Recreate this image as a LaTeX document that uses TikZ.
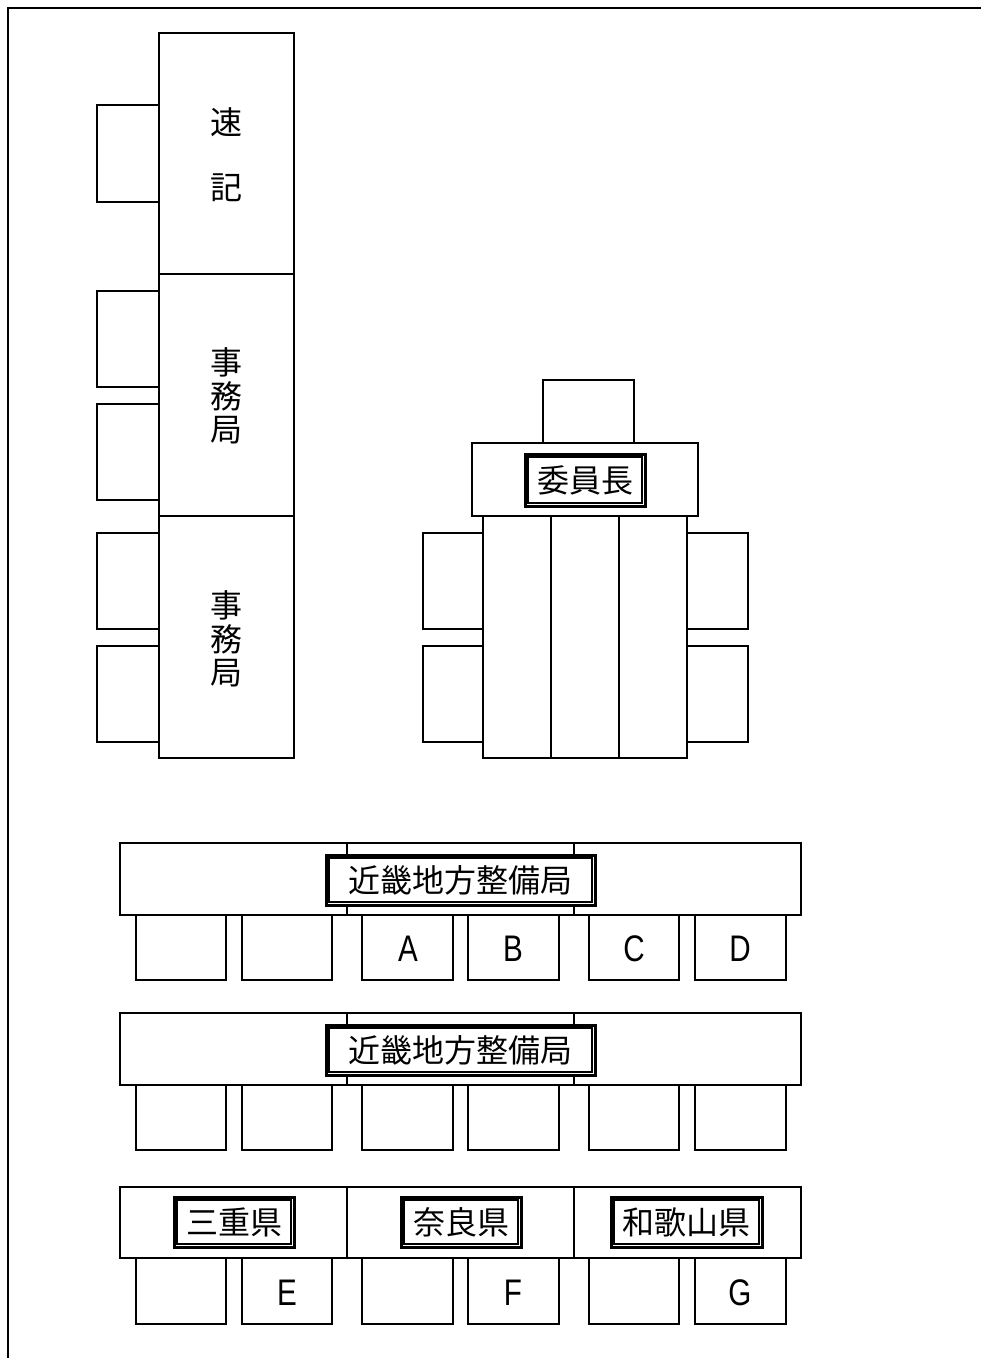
\documentclass[tikz,border=0pt]{standalone}
\usepackage{fontspec}
\newfontfamily\jpfont{Noto Sans CJK JP}
\newfontfamily\latfont[FakeStretch=0.8]{Liberation Sans}
\newcommand{\rbox}[6][]{%
  \node[furn,#1,minimum width={(#5-#3)*1pt},minimum height={(#6-#4)*1pt}] (#2) at ({(#3+#5)/2},{(#4+#6)/2}) {};}
\begin{document}
\begin{tikzpicture}[x=1pt,y=-1pt,
  furn/.style={draw=black,fill=white,line width=2.4pt,inner sep=0pt,outer sep=0pt},
  jp/.style={font=\jpfont\fontsize{32}{32}\selectfont,inner sep=0pt},
  letter/.style={font=\latfont\fontsize{37}{37}\selectfont,inner sep=0pt},
  lab/.style={draw=black,fill=white,line width=3pt,inner sep=0pt,font=\jpfont\fontsize{32}{32}\selectfont},
  inner/.style={draw=black,line width=1.2pt}]
\useasboundingbox (0,0) rectangle (981,1358);
% outer frame
\coordinate (ftr) at (981,8);
\coordinate (ftl) at (8,8);
\coordinate (fbl) at (8,1358);
\draw[line width=2.4pt] (ftr) -- (ftl) -- (fbl);

% left column: stenography and secretariat
\rbox{c1}{97}{105}{159}{202}
\rbox{c2}{97}{291}{159}{387}
\rbox{c3}{97}{404}{159}{500}
\rbox{c4}{97}{533}{159}{629}
\rbox{c5}{97}{646}{159}{742}
\rbox{t1}{159}{33}{294}{274}
\rbox{t2}{159}{274}{294}{516}
\rbox{t3}{159}{516}{294}{758}
\node[jp] (s1) at (226,122) {速};
\node[jp] (s2) at (226,188) {記};
\node[jp] (j1) at (226,362) {事};
\node[jp] (j2) at (226,396) {務};
\node[jp] (j3) at (226,430) {局};
\node[jp] (k1) at (226,605) {事};
\node[jp] (k2) at (226,639) {務};
\node[jp] (k3) at (226,673) {局};

% chairman
\rbox{cc}{543}{380}{634}{443}
\rbox{cl1}{423}{533}{483}{629}
\rbox{cl2}{423}{646}{483}{742}
\rbox{cr1}{687}{533}{748}{629}
\rbox{cr2}{687}{646}{748}{742}
\rbox{ct}{472}{443}{698}{516}
\rbox{cs1}{483}{516}{551}{758}
\rbox{cs2}{551}{516}{619}{758}
\rbox{cs3}{619}{516}{687}{758}
\node[lab,minimum width=120pt,minimum height=52pt] (lchair) at (585,480) {委員長};
\draw[inner] ([shift={(4.5,4.5)}]lchair.north west) rectangle ([shift={(-4.5,-4.5)}]lchair.south east);

% row 1
\rbox{r1a}{120}{843}{347}{915}
\rbox{r1b}{347}{843}{574}{915}
\rbox{r1c}{574}{843}{801}{915}
\node[lab,minimum width=269pt,minimum height=50pt] (l1) at (460.5,880) {近畿地方整備局};
\draw[inner] ([shift={(4.5,4.5)}]l1.north west) rectangle ([shift={(-4.5,-4.5)}]l1.south east);
\rbox{p11}{136}{915}{226}{980}
\rbox{p12}{242}{915}{332}{980}
\rbox{p13}{362}{915}{453}{980}
\rbox{p14}{468}{915}{559}{980}
\rbox{p15}{589}{915}{679}{980}
\rbox{p16}{695}{915}{786}{980}
\node[letter] (la) at (408,948.5) {A};
\node[letter] (lb) at (513,948.5) {B};
\node[letter] (lc) at (634,948.5) {C};
\node[letter] (ld) at (740,948.5) {D};

% row 2
\rbox{r2a}{120}{1013}{347}{1085}
\rbox{r2b}{347}{1013}{574}{1085}
\rbox{r2c}{574}{1013}{801}{1085}
\node[lab,minimum width=269pt,minimum height=50pt] (l2) at (460.5,1050) {近畿地方整備局};
\draw[inner] ([shift={(4.5,4.5)}]l2.north west) rectangle ([shift={(-4.5,-4.5)}]l2.south east);
\rbox{p21}{136}{1085}{226}{1150}
\rbox{p22}{242}{1085}{332}{1150}
\rbox{p23}{362}{1085}{453}{1150}
\rbox{p24}{468}{1085}{559}{1150}
\rbox{p25}{589}{1085}{679}{1150}
\rbox{p26}{695}{1085}{786}{1150}

% row 3
\rbox{r3a}{120}{1187}{347}{1258}
\rbox{r3b}{347}{1187}{574}{1258}
\rbox{r3c}{574}{1187}{801}{1258}
\node[lab,minimum width=120pt,minimum height=50pt] (l3a) at (234,1222) {三重県};
\draw[inner] ([shift={(4.5,4.5)}]l3a.north west) rectangle ([shift={(-4.5,-4.5)}]l3a.south east);
\node[lab,minimum width=120pt,minimum height=50pt] (l3b) at (461,1222) {奈良県};
\draw[inner] ([shift={(4.5,4.5)}]l3b.north west) rectangle ([shift={(-4.5,-4.5)}]l3b.south east);
\node[lab,minimum width=151pt,minimum height=50pt] (l3c) at (686.5,1222) {和歌山県};
\draw[inner] ([shift={(4.5,4.5)}]l3c.north west) rectangle ([shift={(-4.5,-4.5)}]l3c.south east);
\rbox{p31}{136}{1258}{226}{1324}
\rbox{p32}{242}{1258}{332}{1324}
\rbox{p33}{362}{1258}{453}{1324}
\rbox{p34}{468}{1258}{559}{1324}
\rbox{p35}{589}{1258}{679}{1324}
\rbox{p36}{695}{1258}{786}{1324}
\node[letter] (le) at (287,1292.5) {E};
\node[letter] (lf) at (513,1292.5) {F};
\node[letter] (lg) at (740,1292.5) {G};
\end{tikzpicture}
\end{document}
